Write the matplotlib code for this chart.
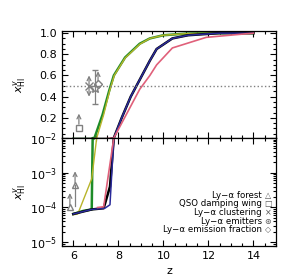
import numpy as np
import matplotlib
matplotlib.use("Agg")
import matplotlib.pyplot as plt
from matplotlib.ticker import MultipleLocator, LogLocator, NullFormatter

# model histories of the volume-weighted neutral fraction
green_z = [6.0, 6.45, 6.82, 6.86, 6.94, 7.3, 7.6, 7.8, 8.3, 8.95, 9.4, 10.0, 11.0, 12.0, 14.0]
green_x = [6.5e-5, 8e-5, 8.8e-5, 9e-3, 1e-2, 0.23, 0.46, 0.6, 0.77, 0.9, 0.95, 0.98, 0.995, 1.0, 1.0]

yellow_z = [6.0, 6.2, 6.82, 7.04, 7.35, 7.62, 7.82, 8.3, 8.95, 9.4, 10.0, 11.0, 12.0, 14.0]
yellow_x = [6.2e-5, 6.5e-5, 6.7e-4, 1e-2, 0.23, 0.46, 0.6, 0.765, 0.895, 0.95, 0.98, 0.995, 1.0, 1.0]

black_z = [6.0, 6.82, 7.35, 7.63, 7.8, 8.15, 8.55, 8.8, 9.0, 9.4, 9.7, 10.4, 11.1, 12.5, 14.0]
black_x = [6.5e-5, 8.8e-5, 9.5e-5, 4e-4, 1e-2, 0.2, 0.4, 0.5, 0.58, 0.74, 0.85, 0.95, 0.98, 1.0, 1.0]

blue_z = [6.0, 6.82, 7.4, 7.63, 7.8, 8.15, 8.55, 8.8, 9.0, 9.4, 9.7, 10.4, 11.1, 12.5, 14.0]
blue_x = [6.5e-5, 8.8e-5, 9.5e-5, 1.2e-4, 1e-2, 0.2, 0.4, 0.5, 0.58, 0.74, 0.85, 0.95, 0.98, 1.0, 1.0]

pink_z = [7.08, 7.35, 7.8, 8.3, 8.95, 9.4, 9.7, 10.4, 11.9, 14.0]
pink_x = [1e-4, 1.05e-4, 1e-2, 0.21, 0.47, 0.6, 0.7, 0.86, 0.96, 1.0]

# observational constraints
forest_z = [5.85, 6.08]
forest_x = [1.0e-4, 4.5e-4]
forest_up = [2.6e-4, 1.1e-3]
forest_low = 1.1e-4

damping_z = [6.25]
damping_x = [0.10]
damping_up = [0.24]

clust_z = [6.7]
clust_x = [0.5]
clust_lo, clust_hi = 0.4, 0.6

lae_z = [6.97]
lae_x = [0.48]
lae_lo, lae_hi = 0.33, 0.65

frac_z = [7.1]
frac_x = [0.52]
frac_up = [0.64]

legend_labels = ["Ly\u2212\u03b1 forest", "QSO damping wing", "Ly\u2212\u03b1 clustering",
                 "Ly\u2212\u03b1 emitters", "Ly\u2212\u03b1 emission fraction"]
legend_syms = ["\u25b3", "\u25a1", "\u00d7", "\u229b", "\u25c7"]

plt.rcParams['font.family'] = ['DejaVu Sans']
plt.rcParams['font.size'] = 8
gray = '#808080'

fig = plt.figure(figsize=(2.93, 2.79), dpi=100)
ax1 = fig.add_axes([0.2116, 0.5054, 0.7304, 0.3835])
ax2 = fig.add_axes([0.2116, 0.1183, 0.7304, 0.3871])


def arrow(ax, z, y0, y1):
    ax.annotate('', xy=(z, y1), xytext=(z, y0),
                arrowprops=dict(arrowstyle='->', color=gray, lw=0.9,
                                shrinkA=0, shrinkB=0, mutation_scale=7))


for ax in (ax1, ax2):
    ax.plot(green_z, green_x, color='#1e8c28', lw=1.8)
    ax.plot(yellow_z, yellow_x, color='#b8b42a', lw=1.0)
    ax.plot(black_z, black_x, color='black', lw=1.8)
    ax.plot(blue_z, blue_x, color='#2a2a9a', lw=1.1)
    ax.plot(pink_z, pink_x, color='#e0607a', lw=1.2)
    ax.set_xlim(5.5, 15)
    ax.xaxis.set_major_locator(MultipleLocator(2))
    ax.xaxis.set_minor_locator(MultipleLocator(0.5))
    ax.tick_params(which='both', direction='in', top=True, right=True, width=0.8)
    ax.tick_params(which='major', length=4)
    ax.tick_params(which='minor', length=2)
    for s in ax.spines.values():
        s.set_linewidth(0.9)

# top panel
ax1.axhline(0.5, color=gray, ls=':', lw=1.0)
ax1.plot(damping_z, damping_x, 's', mfc='none', mec=gray, ms=5)
arrow(ax1, damping_z[0], damping_x[0] + 0.04, damping_up[0])
ax1.plot(clust_z, clust_x, 'x', color=gray, ms=6)
arrow(ax1, clust_z[0], clust_x[0], clust_hi)
arrow(ax1, clust_z[0], clust_x[0], clust_lo)
ax1.errorbar(lae_z, lae_x, yerr=[[lae_x[0] - lae_lo], [lae_hi - lae_x[0]]],
             fmt='*', color=gray, mfc='none', ms=7, capsize=2, elinewidth=0.9)
ax1.plot(frac_z, frac_x, 'D', mfc='none', mec=gray, ms=4)
arrow(ax1, frac_z[0], frac_x[0] + 0.03, frac_up[0])
ax1.set_ylim(0.01, 1.02)
ax1.yaxis.set_minor_locator(MultipleLocator(0.05))
ax1.set_yticks([0.2, 0.4, 0.6, 0.8, 1.0])
ax1.set_xticklabels([])
ax1.set_ylabel(r'$x^{v}_{\rm HI}$', fontsize=8)

# bottom panel
ax2.set_yscale('log')
ax2.plot(forest_z, forest_x, '^', mfc='none', mec=gray, ms=5)
ax2.plot([forest_z[1], forest_z[1]], [forest_low, forest_x[1]], color=gray, lw=0.9)
for z, y, yu in zip(forest_z, forest_x, forest_up):
    arrow(ax2, z, y * 1.15, yu)
ax2.set_ylim(7.8e-6, 1e-2)
ax2.yaxis.set_major_locator(LogLocator(base=10, numticks=10))
ax2.yaxis.set_minor_locator(LogLocator(base=10, subs=np.arange(2, 10), numticks=20))
ax2.yaxis.set_minor_formatter(NullFormatter())
ax2.set_xticks([6, 8, 10, 12, 14])
ax2.set_xlabel('z', fontsize=8)
ax2.set_ylabel(r'$x^{v}_{\rm HI}$', fontsize=8)

ys = [0.47, 0.39, 0.31, 0.23, 0.15]
for lab, sym, y in zip(legend_labels, legend_syms, ys):
    ax2.text(0.935, y, lab, transform=ax2.transAxes, ha='right', va='center', fontsize=6.2)
    ax2.text(0.962, y, sym, transform=ax2.transAxes, ha='center', va='center',
             fontsize=5.8, color='#555555')

for ax in (ax1, ax2):
    ax.yaxis.set_label_coords(-0.16, 0.5)

fig.savefig('out.png', dpi=100)
